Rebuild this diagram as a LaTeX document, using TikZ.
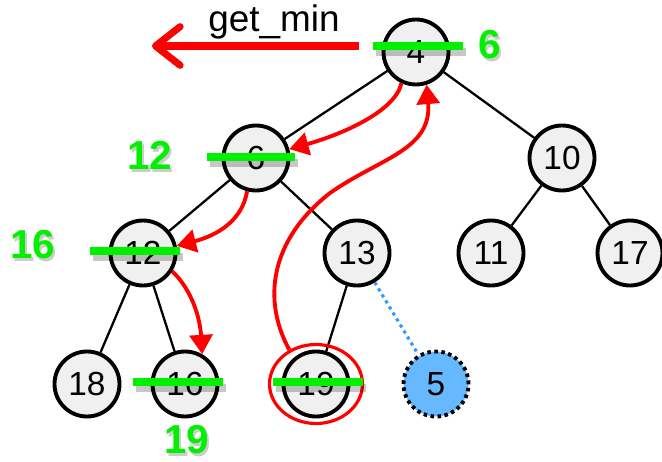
\documentclass[tikz,border=0pt]{standalone}
\usepackage{fontspec}
\setmainfont{Liberation Sans}
\usepackage{tikz}
\usetikzlibrary{arrows.meta, shapes.geometric}

\definecolor{barGreen}{RGB}{0,240,0}
\definecolor{dotBlue}{RGB}{51,153,255}
\definecolor{newBlue}{RGB}{102,184,255}

\tikzset{
  heapnode/.style={circle, draw, line width=2.2pt, fill=gray!12, minimum size=1.3cm, inner sep=0pt, font=\fontsize{19}{19}\selectfont},
  treeedge/.style={line width=1.3pt},
  strikebar/.style={barGreen, line width=5pt},
  barshadow/.style={black, opacity=0.22, line width=5pt},
  greennum/.style={text=barGreen, inner sep=0.5pt, font=\fontsize{23}{23}\selectfont\bfseries},
  numshadow/.style={text=black, opacity=0.2, inner sep=0.5pt, font=\fontsize{23}{23}\selectfont\bfseries},
  movearrow/.style={red, line width=2.2pt, -{Triangle[length=11pt, width=13pt]}},
}

\begin{document}
\begin{tikzpicture}[x=0.02cm, y=-0.02cm]
\useasboundingbox (0,0) rectangle (662,462);

% heap nodes
\node[heapnode] (n4) at (416,52) {4};
\node[heapnode] (n6) at (256,158) {6};
\node[heapnode] (n10) at (562,158) {10};
\node[heapnode] (n12) at (143,253) {12};
\node[heapnode] (n13) at (357,253) {13};
\node[heapnode] (n11) at (491,253) {11};
\node[heapnode] (n17) at (630,253) {17};
\node[heapnode] (n18) at (87,384) {18};
\node[heapnode] (n16) at (185,384) {16};
\node[heapnode] (n19) at (316,384) {19};
\node[heapnode, fill=newBlue, dash pattern=on 2pt off 2pt] (n5) at (436,384) {5};

% tree edges
\draw[treeedge] (n4) -- (n6);
\draw[treeedge] (n4) -- (n10);
\draw[treeedge] (n6) -- (n12);
\draw[treeedge] (n6) -- (n13);
\draw[treeedge] (n10) -- (n11);
\draw[treeedge] (n10) -- (n17);
\draw[treeedge] (n12) -- (n18);
\draw[treeedge] (n12) -- (n16);
\draw[treeedge] (n13) -- (n19);
\draw[dotBlue, line width=1.8pt, dash pattern=on 1.8pt off 2.2pt] (n13) -- (n5);

% ring round the last leaf
\node[ellipse, draw=red, line width=1.8pt, minimum width=1.86cm, minimum height=1.58cm] (ring19) at (n19) {};

% get_min
\coordinate (minout) at (152,46);
\draw[red, line width=4pt, shorten <=0.46cm, -{Straight Barb[round, length=14pt, width=22pt]}] ([shift={(0,-6)}]n4.west) -- (minout);
\node[font=\fontsize{21}{21}\selectfont] (getmin) at (274,22) {get\_min};

% sift down moves
\draw[movearrow] (n4.245) .. controls (395,112) and (340,135) .. (n6.15);
\draw[movearrow] (n6.255) .. controls (242,222) and (215,236) .. (n12.12);
\draw[movearrow] (n12.-32) .. controls (192,290) and (200,318) .. (n16.60);
\coordinate (swing) at (330,193);
\draw[movearrow] (ring19.128) .. controls (262,300) and (270,240) .. (swing)
  .. controls (380,158) and (432,150) .. (n4.-72);

% crossed out values
\foreach \n/\a/\b/\dy in {n4/-43/47/-6, n6/-49/39/-1, n12/-53/37/-2, n16/-52/38/-2, n19/-43/47/-2} {
  \draw[barshadow] ([shift={(\a+3,\dy+6)}]\n.center) -- ([shift={(\b+3,\dy+6)}]\n.center);
  \draw[strikebar] ([shift={(\a,\dy)}]\n.center) -- ([shift={(\b,\dy)}]\n.center);
}

% new values
\foreach \name/\x/\y/\t in {v6/490/45/6, v12/150/155/12, v16/33/245/16, v19/187/440/19} {
  \node[numshadow] at (\x+2,\y+3) {\t};
  \node[greennum] (\name) at (\x,\y) {\t};
}
\end{tikzpicture}
\end{document}
